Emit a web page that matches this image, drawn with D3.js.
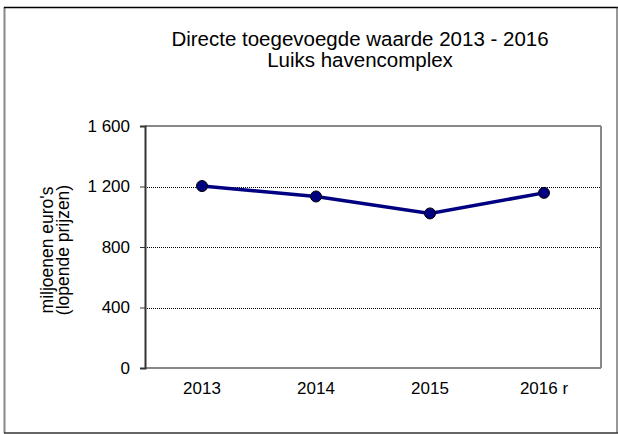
<!DOCTYPE html>
<html>
<head>
<meta charset="utf-8">
<script src="https://cdn.jsdelivr.net/npm/d3@7"></script>
<style>
  body { margin: 0; background: #fff; }
  svg { display: block; font-family: "Liberation Sans", Arial, sans-serif; }
</style>
</head>
<body>
<div class="chart"></div>
<script>
const years = ['2013', '2014', '2015', '2016 r'];
const values = [1203, 1134, 1022, 1158];
const yTicks = [0, 400, 800, 1200, 1600];
const titleLines = ['Directe toegevoegde waarde 2013 - 2016', 'Luiks havencomplex'];
const yLabelLines = ["miljoenen euro's", '(lopende prijzen)'];

const W = 618, H = 434;
const margin = { top: 126, right: 17, bottom: 66, left: 145 };
const width = W - margin.left - margin.right;
const height = H - margin.top - margin.bottom;

const svg = d3.select('.chart').append('svg')
  .attr('width', W)
  .attr('height', H);

// outer frame
svg.append('line').attr('x1', 4.5).attr('x2', 4.5).attr('y1', 7).attr('y2', 433)
  .style('stroke', '#888').style('stroke-width', 2);
svg.append('line').attr('x1', 4).attr('x2', 618).attr('y1', 7.5).attr('y2', 7.5)
  .style('stroke', '#000').style('stroke-width', 1.5);
svg.append('line').attr('x1', 4).attr('x2', 618).attr('y1', 433).attr('y2', 433)
  .style('stroke', '#333').style('stroke-width', 1.5);
svg.append('line').attr('x1', 617).attr('x2', 617).attr('y1', 7).attr('y2', 433)
  .style('stroke', '#333').style('stroke-width', 1);

// title
svg.append('text')
  .attr('text-anchor', 'middle')
  .style('font-size', '20.5px')
  .selectAll('tspan')
  .data(titleLines)
  .enter()
  .append('tspan')
  .attr('x', 360)
  .attr('y', (d, i) => 46 + i * 21)
  .text(d => d);

const g = svg.append('g')
  .attr('transform', `translate(${margin.left}, ${margin.top})`);

const xScale = d3.scaleBand()
  .domain(years)
  .range([0, width]);

const yScale = d3.scaleLinear()
  .domain([0, 1600])
  .range([height, 0]);

// gridlines
g.selectAll('.grid')
  .data(yTicks.filter(t => t > 0 && t < 1600))
  .enter()
  .append('line')
  .attr('class', 'grid')
  .attr('x1', 0)
  .attr('x2', width)
  .attr('y1', d => Math.round(yScale(d)) + 0.5)
  .attr('y2', d => Math.round(yScale(d)) + 0.5)
  .style('stroke', '#000')
  .style('stroke-width', 1)
  .style('stroke-dasharray', '1,1');

// plot frame (top, right, bottom)
g.append('line').attr('x1', 0).attr('x2', width).attr('y1', 0).attr('y2', 0)
  .style('stroke', '#888').style('stroke-width', 2);
g.append('line').attr('x1', width).attr('x2', width).attr('y1', 0).attr('y2', height)
  .style('stroke', '#888').style('stroke-width', 2);
g.append('line').attr('x1', 0).attr('x2', width).attr('y1', height).attr('y2', height)
  .style('stroke', '#888').style('stroke-width', 2);

// y axis
const yAxis = g.append('g')
  .attr('class', 'y axis')
  .call(d3.axisLeft(yScale)
    .tickValues(yTicks)
    .tickSize(5)
    .tickPadding(10)
    .tickFormat(d => d3.format(',')(d).replace(',', ' ')));
yAxis.select('.domain').style('stroke', '#333').style('stroke-width', 2);
yAxis.selectAll('.tick line').style('stroke', '#333');
yAxis.selectAll('text')
  .style('font-size', '17px')
  .style('font-family', '"Liberation Sans", Arial, sans-serif')
  .attr('fill', '#000');

// x axis
const xAxis = g.append('g')
  .attr('class', 'x axis')
  .attr('transform', `translate(0, ${height})`)
  .call(d3.axisBottom(xScale).tickSize(0).tickPadding(14));
xAxis.select('.domain').remove();
xAxis.selectAll('text')
  .style('font-size', '17px')
  .style('font-family', '"Liberation Sans", Arial, sans-serif')
  .attr('fill', '#000');

// y label
svg.append('text')
  .attr('transform', 'translate(0, 250) rotate(-90)')
  .attr('text-anchor', 'middle')
  .style('font-size', '17.5px')
  .selectAll('tspan')
  .data(yLabelLines)
  .enter()
  .append('tspan')
  .attr('x', 0)
  .attr('y', (d, i) => 53 + i * 16)
  .text(d => d);

const line = d3.line()
  .x((d, i) => xScale(years[i]) + xScale.bandwidth() / 2)
  .y(d => yScale(d));

g.append('path')
  .datum(values)
  .attr('d', line)
  .style('stroke', '#000080')
  .style('stroke-width', 3.5)
  .style('fill', 'none');

g.selectAll('circle')
  .data(values)
  .enter()
  .append('circle')
  .attr('cx', (d, i) => xScale(years[i]) + xScale.bandwidth() / 2)
  .attr('cy', d => yScale(d))
  .attr('r', 5.5)
  .style('fill', '#000080')
  .style('stroke', '#000')
  .style('stroke-width', 1);
</script>
</body>
</html>
